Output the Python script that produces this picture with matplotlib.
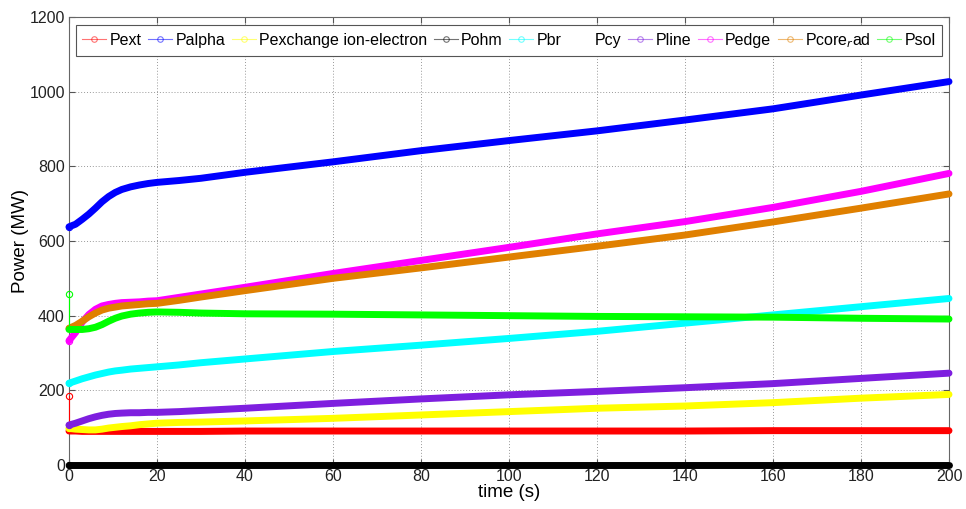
import numpy as np
import matplotlib
matplotlib.use("Agg")
import matplotlib.pyplot as plt
from matplotlib.lines import Line2D

plt.rcParams['font.family'] = ['Liberation Sans', 'DejaVu Sans']

# time samples (s)
t = [0, 1.5, 3, 4.5, 6, 7.5, 9, 10.5, 12, 14, 16, 18, 20, 25, 30, 40,
     60, 80, 100, 120, 140, 160, 180, 200]

# powers (MW)
pext = [91, 91, 90, 90, 90, 90, 90, 90, 90, 90, 90, 90, 90, 90, 90, 91,
        91, 91, 91, 91, 91, 92, 92, 92]
palpha = [638, 645, 658, 672, 688, 705, 719, 730, 738, 745, 750, 754, 757, 762, 768, 784,
          812, 842, 869, 895, 924, 954, 991, 1027]
pexch = [98, 96, 95, 94, 94, 96, 99, 101, 103, 105, 108, 110, 112, 114, 115, 118,
         125, 134, 143, 152, 158, 167, 179, 189]
pohm = [0] * len(t)
pbr = [219, 225, 231, 236, 241, 245, 249, 252, 254, 257, 259, 261, 263, 268, 274, 284,
       304, 321, 339, 358, 380, 402, 424, 446]
pcy = [0] * len(t)
pline = [107, 112, 118, 124, 129, 133, 136, 138, 139, 140, 140, 141, 141, 143, 146, 152,
         165, 177, 188, 197, 207, 218, 232, 246]
pedge = [333, 355, 383, 403, 417, 426, 430, 433, 435, 436, 437, 439, 440, 449, 458, 476,
         513, 548, 583, 619, 652, 690, 733, 781]
pcorerad = [366, 374, 385, 397, 407, 415, 420, 423, 426, 428, 430, 432, 433, 441, 450, 467,
            500, 528, 557, 586, 616, 651, 688, 726]
psol = [363, 363, 363, 365, 369, 376, 385, 393, 399, 404, 407, 409, 410, 409, 407, 405,
        404, 402, 400, 398, 397, 396, 393, 391]

# first stored sample (drawn as a small open circle at t=0)
pext0 = 185
psol0 = 457

labels = ['Pext', 'Palpha', 'Pexchange ion-electron', 'Pohm', 'Pbr', 'Pcy',
          'Pline', 'Pedge', 'Pcore$_r$ad', 'Psol']
colors = ['#ff0000', '#0000ff', '#ffff00', '#000000', '#00ffff', '#ffffff',
          '#7e1fdf', '#ff00ff', '#e08000', '#00ff00']
series = [pext, palpha, pexch, pohm, pbr, pcy, pline, pedge, pcorerad, psol]
starts = [pext0, palpha[0], pexch[0], pohm[0], pbr[0], pcy[0],
          pline[0], pedge[0], pcorerad[0], psol0]

fig = plt.figure(figsize=(9.66, 5.09), dpi=100)
ax = fig.add_axes([69 / 966, 44 / 509, 880 / 966, 448 / 509])

for i, (y, c, y0) in enumerate(zip(series, colors, starts)):
    z = 2.9 if labels[i] == 'Pcy' else 3 + i * 0.01
    ax.plot(t, y, color=c, lw=5, solid_capstyle='round', solid_joinstyle='round',
            clip_on=False, zorder=z)
    ax.plot([0, 0], [y0, y[0]], color=c, lw=0.8, marker='o', markevery=[0],
            mfc='none', ms=4.5, mew=0.8, clip_on=False, zorder=z + 0.005)

ax.set_xlim(0, 200)
ax.set_ylim(0, 1200)
ax.set_xticks(np.arange(0, 201, 20))
ax.set_yticks(np.arange(0, 1201, 200))
ax.grid(True, color='#999999', linestyle=(0, (1, 2)), lw=0.7)
ax.set_axisbelow(True)
ax.tick_params(direction='in', top=True, right=True, length=4, width=0.8,
               color='#555555', labelsize=11.5, labelcolor='#222222', pad=3)
for s in ax.spines.values():
    s.set_color('#666666')
    s.set_linewidth(0.8)

ax.set_xlabel('time (s)', fontsize=13.5, labelpad=0)
ax.set_ylabel('Power (MW)', fontsize=13.5, labelpad=0)

handles = [Line2D([0], [0], color=c, lw=0.8, marker='o', mfc='none', ms=4, mew=0.8,
                  alpha=0.55) for c in colors]
leg = ax.legend(handles, labels, loc='upper center', bbox_to_anchor=(0.5, 0.99),
                ncol=10, fontsize=11.5, handlelength=1.5, handletextpad=0.2,
                columnspacing=0.42, borderpad=0.4, borderaxespad=0.2,
                fancybox=False, framealpha=1)
leg.get_frame().set_edgecolor('#555555')
leg.get_frame().set_linewidth(0.8)

fig.savefig('out.png', dpi=100)
